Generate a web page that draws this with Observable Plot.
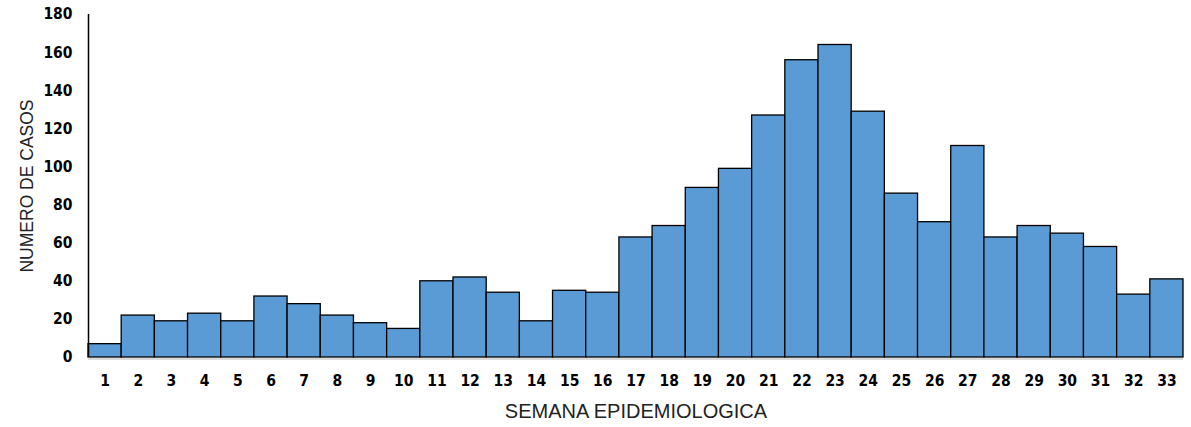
<!DOCTYPE html>
<html>
<head>
<meta charset="utf-8">
<script src="https://cdn.jsdelivr.net/npm/d3@7"></script>
<script src="https://cdn.jsdelivr.net/npm/@observablehq/plot@0.6"></script>
<style>
  html, body { margin: 0; padding: 0; background: #fff; }
  #chart svg { display: block; }
  #chart svg g[aria-label="y-axis tick label"] text,
  #chart svg g[aria-label="x-axis tick label"] text { font-stretch: condensed; }
</style>
</head>
<body>
<div id="chart"></div>
<script>
const weeks = [1,2,3,4,5,6,7,8,9,10,11,12,13,14,15,16,17,18,19,20,21,22,23,24,25,26,27,28,29,30,31,32,33];
const cases = [7,22,19,23,19,32,28,22,18,15,40,42,34,19,35,34,63,69,89,99,127,156,164,129,86,71,111,63,69,65,58,33,41];
const yTicks = [0,20,40,60,80,100,120,140,160,180];
const xLabel = "SEMANA EPIDEMIOLOGICA";
const yLabel = "NUMERO DE CASOS";

const data = weeks.map((w, i) => ({week: w, value: cases[i]}));
const font = "'Liberation Sans Narrow', 'Arial Narrow', 'Liberation Sans', sans-serif";
const tickFont = "'DejaVu Sans Condensed', 'DejaVu Sans', sans-serif";

const chart = Plot.plot({
  width: 1191,
  height: 427,
  marginLeft: 88,
  marginRight: 8,
  marginTop: 14,
  marginBottom: 70,
  style: {fontFamily: font, background: "#fff", color: "#000"},
  x: {domain: [0.5, 33.5]},
  y: {domain: [0, 180]},
  marks: [
    Plot.rectY(data, {
      x1: d => d.week - 0.5,
      x2: d => d.week + 0.5,
      y: "value",
      fill: "#5B9BD5",
      stroke: "#000",
      strokeWidth: 1.3
    }),
    Plot.ruleY([0], {stroke: "#d0d0d0", strokeWidth: 1.5, dy: 1.5}),
    Plot.ruleX([0.5], {stroke: "#000", strokeWidth: 1.5}),
    Plot.axisY({
      ticks: yTicks,
      tickSize: 0,
      tickPadding: 16,
      fontSize: 15.5,
      fontWeight: "bold",
      fontFamily: tickFont,
      label: null
    }),
    Plot.axisX({
      ticks: weeks,
      tickSize: 0,
      tickPadding: 17,
      fontSize: 15.5,
      fontWeight: "bold",
      fontFamily: tickFont,
      label: null
    }),
    Plot.text([xLabel], {
      frameAnchor: "bottom",
      dy: 60,
      fontSize: 20,
      text: d => d,
      fill: "#222"
    }),
    Plot.text([yLabel], {
      frameAnchor: "left",
      textAnchor: "middle",
      dx: -61,
      rotate: -90,
      fontSize: 17.5,
      text: d => d,
      fill: "#222"
    })
  ]
});
document.getElementById("chart").appendChild(chart);
</script>
</body>
</html>
